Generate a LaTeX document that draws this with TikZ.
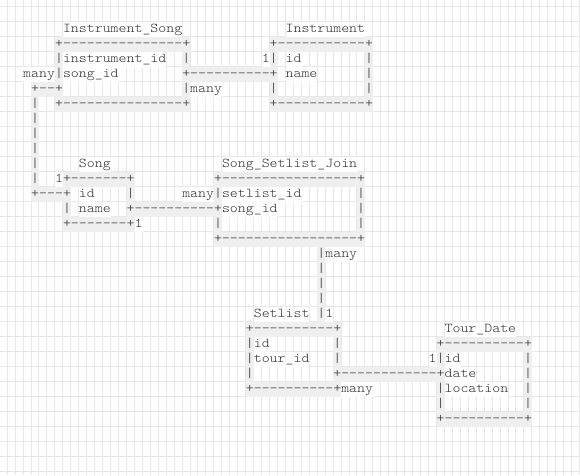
\documentclass[tikz,border=0pt]{standalone}
\usepackage{fontspec}
\newfontfamily\asciifont{Latin Modern Mono Light}[FakeStretch=1.1217]
\definecolor{gridc}{HTML}{E8E8E8}
\definecolor{bandc}{HTML}{EFEFEF}
\definecolor{inkc}{HTML}{333333}
\newcommand\brd[3]{\node[bordercell] (b-#1-#2) at ({-0.8+7.95*#2},{15*#1+2.9}) {#3};}
\newcommand\wrd[3]{\node[wordcell] (w-#1-#2) at ({-0.8+7.95*#2},{15*#1+2.9}) {#3};}
\begin{document}
\begin{tikzpicture}[x=1pt,y=-1pt,
  cellbase/.style={anchor=base west, inner xsep=0pt, inner ysep=0pt,
    text height=11.2pt, text depth=3.8pt,
    font=\asciifont\fontsize{13.5pt}{15pt}\selectfont, text=inkc},
  bordercell/.style={cellbase, fill=bandc},
  wordcell/.style={cellbase, fill=white}]
\fill[white] (0,0) rectangle (580,475);
\useasboundingbox (0,0) rectangle (580,475);
\foreach \i in {0,...,73} \draw[gridc, line width=1pt] ({-0.8+7.95*\i},0) -- ({-0.8+7.95*\i},475);
\foreach \j in {0,...,31} \draw[gridc, line width=1pt] (0,{6.7+15*\j}) -- (580,{6.7+15*\j});
% row 2
\wrd{2}{8}{Instrument\_Song}
\wrd{2}{36}{Instrument}
% row 3
\brd{3}{7}{+---------------+}
\brd{3}{34}{+-----------+}
% row 4
\brd{4}{7}{|}
\wrd{4}{8}{instrument\_id}
\brd{4}{23}{|}
\wrd{4}{33}{1}
\brd{4}{34}{|}
\wrd{4}{36}{id}
\brd{4}{46}{|}
% row 5
\wrd{5}{3}{many}
\brd{5}{7}{|}
\wrd{5}{8}{song\_id}
\brd{5}{23}{+----------+}
\wrd{5}{36}{name}
\brd{5}{46}{|}
% row 6
\brd{6}{4}{+--+}
\brd{6}{23}{|}
\wrd{6}{24}{many}
\brd{6}{34}{|}
\brd{6}{46}{|}
% row 7
\brd{7}{4}{|}
\brd{7}{7}{+---------------+}
\brd{7}{34}{+-----------+}
% rows 8-10
\brd{8}{4}{|}
\brd{9}{4}{|}
\brd{10}{4}{|}
% row 11
\brd{11}{4}{|}
\wrd{11}{10}{Song}
\wrd{11}{28}{Song\_Setlist\_Join}
% row 12
\brd{12}{4}{|}
\wrd{12}{7}{1}
\brd{12}{8}{+-------+}
\brd{12}{27}{+-----------------+}
% row 13
\brd{13}{4}{+---+}
\wrd{13}{10}{id}
\brd{13}{16}{|}
\wrd{13}{23}{many}
\brd{13}{27}{|}
\wrd{13}{28}{setlist\_id}
\brd{13}{45}{|}
% row 14
\brd{14}{8}{|}
\wrd{14}{10}{name}
\brd{14}{16}{+----------+}
\wrd{14}{28}{song\_id}
\brd{14}{45}{|}
% row 15
\brd{15}{8}{+-------+}
\wrd{15}{17}{1}
\brd{15}{27}{|}
\brd{15}{45}{|}
% row 16
\brd{16}{27}{+-----------------+}
% row 17-20
\brd{17}{40}{|}
\wrd{17}{41}{many}
\brd{18}{40}{|}
\brd{19}{40}{|}
\brd{20}{40}{|}
% row 21
\wrd{21}{32}{Setlist}
\brd{21}{40}{|}
\wrd{21}{41}{1}
% row 22
\brd{22}{31}{+----------+}
\wrd{22}{56}{Tour\_Date}
% row 23
\brd{23}{31}{|}
\wrd{23}{32}{id}
\brd{23}{42}{|}
\brd{23}{55}{+----------+}
% row 24
\brd{24}{31}{|}
\wrd{24}{32}{tour\_id}
\brd{24}{42}{|}
\wrd{24}{54}{1}
\brd{24}{55}{|}
\wrd{24}{56}{id}
\brd{24}{66}{|}
% row 25
\brd{25}{31}{|}
\brd{25}{42}{+------------+}
\wrd{25}{56}{date}
\brd{25}{66}{|}
% row 26
\brd{26}{31}{+----------+}
\wrd{26}{43}{many}
\brd{26}{55}{|}
\wrd{26}{56}{location}
\brd{26}{66}{|}
% row 27
\brd{27}{55}{|}
\brd{27}{66}{|}
% row 28
\brd{28}{55}{+----------+}
\end{tikzpicture}
\end{document}
